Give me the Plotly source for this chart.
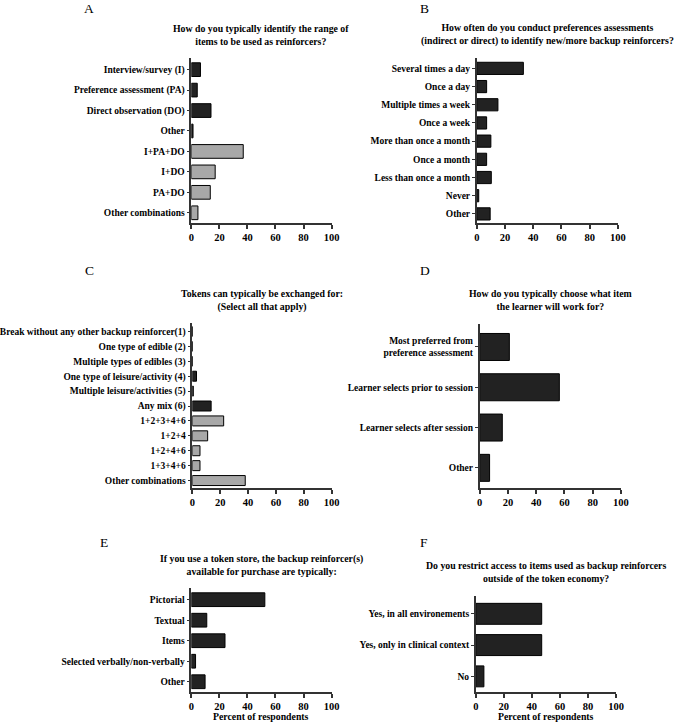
import plotly.graph_objects as go

W, H = 676, 722

# ---------------- data ----------------
A_title = "How do you typically identify the range of<br>items to be used as reinforcers?"
A_single = ["Interview/survey (I)", "Preference assessment (PA)", "Direct observation (DO)", "Other"]
A_single_vals = [6.5, 4.2, 14, 1.2]
A_combo = ["I+PA+DO", "I+DO", "PA+DO", "Other combinations"]
A_combo_vals = [37, 17, 13.5, 4.7]

B_title = "How often do you conduct preferences assessments<br>(indirect or direct) to identify new/more backup reinforcers?"
B_single = ["Several times a day", "Once a day", "Multiple times a week", "Once a week",
            "More than once a month", "Once a month", "Less than once a month", "Never", "Other"]
B_single_vals = [33, 7, 15, 7, 10, 7, 10.3, 1.4, 9.5]
B_combo = []
B_combo_vals = []

C_title = "Tokens can typically be exchanged for:<br>(Select all that apply)"
C_single = ["Break without any other backup reinforcer(1)", "One type of edible (2)",
            "Multiple types of edibles (3)", "One type of leisure/activity (4)",
            "Multiple leisure/activities (5)", "Any mix (6)"]
C_single_vals = [0, 0, 0, 3, 0.7, 13.5]
C_combo = ["1+2+3+4+6", "1+2+4", "1+2+4+6", "1+3+4+6", "Other combinations"]
C_combo_vals = [22.5, 11, 5.5, 5.5, 38]

D_title = "How do you typically choose what item<br>the learner will work for?"
D_single = ["Most preferred from<br>preference assessment", "Learner selects prior to session",
            "Learner selects after session", "Other"]
D_single_vals = [21, 56.4, 16, 7]
D_combo = []
D_combo_vals = []

E_title = "If you use a token store, the backup reinforcer(s)<br>available for purchase are typically:"
E_single = ["Pictorial", "Textual", "Items", "Selected verbally/non-verbally", "Other"]
E_single_vals = [52.4, 11, 24, 3, 9.8]
E_combo = []
E_combo_vals = []

F_title = "Do you restrict access to items used as backup reinforcers<br>outside of the token economy?"
F_single = ["Yes, in all environements", "Yes, only in clinical context", "No"]
F_single_vals = [47, 47, 5.8]
F_combo = []
F_combo_vals = []

x_ticks = [0, 20, 40, 60, 80, 100]
x_title = "Percent of respondents"

# ---------------- layout / style ----------------
FONT = "Liberation Serif"
DARK = "#222222"
GRAY = "#a8a8a8"
AX = "#333333"

panels = [
    # letter, title, single, svals, combo, cvals, xpx, ypx(top,bottom), letter pos, title y center, show xtitle
    ("A", A_title, A_single, A_single_vals, A_combo, A_combo_vals, (190, 333), (58, 223), (86, 8), 35, False),
    ("B", B_title, B_single, B_single_vals, B_combo, B_combo_vals, (481, 625), (58, 223), (428, 8), 35, False),
    ("C", C_title, C_single, C_single_vals, C_combo, C_combo_vals, (191, 333), (323, 488), (86, 270), 300, False),
    ("D", D_title, D_single, D_single_vals, D_combo, D_combo_vals, (484, 628), (324, 488), (428, 270), 300, False),
    ("E", E_title, E_single, E_single_vals, E_combo, E_combo_vals, (190, 333), (588, 692), (101, 542), 565, True),
    ("F", F_title, F_single, F_single_vals, F_combo, F_combo_vals, (480, 623), (596, 692), (427, 542), 572, True),
]

fig = go.Figure()
annotations = []
layout_axes = {}

for i, (letter, title, single, svals, combo, cvals, xpx, ypx, lpos, ty, showxt) in enumerate(panels):
    n = i + 1
    xa = "x" if n == 1 else f"x{n}"
    ya = "y" if n == 1 else f"y{n}"
    cats = single + combo
    fig.add_trace(go.Bar(
        y=single, x=svals, orientation="h", xaxis=xa, yaxis=ya,
        marker=dict(color=DARK, line=dict(color="#000000", width=1)),
        width=0.67, showlegend=False, hoverinfo="x+y"))
    if combo:
        fig.add_trace(go.Bar(
            y=combo, x=cvals, orientation="h", xaxis=xa, yaxis=ya,
            marker=dict(color=GRAY, line=dict(color="#000000", width=1)),
            width=0.67, showlegend=False, hoverinfo="x+y"))
    ncat = len(cats)
    layout_axes["xaxis" if n == 1 else f"xaxis{n}"] = dict(
        domain=[xpx[0] / W, xpx[1] / W], anchor=ya, range=[0, 100],
        tickvals=x_ticks, ticktext=[str(t) for t in x_ticks],
        showline=True, linecolor=AX, linewidth=1.5, ticks="outside", ticklen=4,
        tickwidth=1.5, tickcolor=AX, showgrid=False, zeroline=False,
        tickfont=dict(family=FONT, size=10.5, color="#000000", weight="bold"), fixedrange=True)
    layout_axes["yaxis" if n == 1 else f"yaxis{n}"] = dict(
        domain=[1 - ypx[1] / H, 1 - ypx[0] / H], anchor=xa, type="category",
        categoryorder="array", categoryarray=cats,
        range=[ncat - 1 + 0.5, -0.57],
        showline=True, linecolor=AX, linewidth=1.5, ticks="outside", ticklen=3,
        tickwidth=1, tickcolor=AX, showgrid=False, zeroline=False,
        tickfont=dict(family=FONT, size=9.5, color="#000000", weight="bold"), fixedrange=True)
    # panel letter
    annotations.append(dict(text=letter, x=lpos[0] / W, y=1 - lpos[1] / H, xref="paper", yref="paper",
                            xanchor="center", yanchor="middle", showarrow=False,
                            font=dict(family=FONT, size=13.5, color="#000000")))
    # subtitle
    annotations.append(dict(text=title, x=(xpx[0] + xpx[1]) / 2 / W, y=1 - ty / H, xref="paper", yref="paper",
                            xanchor="center", yanchor="middle", showarrow=False, align="center",
                            font=dict(family=FONT, size=9.8, color="#000000", weight="bold")))
    if showxt:
        annotations.append(dict(text=x_title, x=(xpx[0] + xpx[1]) / 2 / W, y=1 - 716 / H,
                                xref="paper", yref="paper", xanchor="center", yanchor="middle",
                                showarrow=False,
                                font=dict(family=FONT, size=9.8, color="#000000", weight="bold")))

fig.update_layout(
    width=W, height=H, margin=dict(l=0, r=0, t=0, b=0),
    paper_bgcolor="white", plot_bgcolor="white",
    annotations=annotations, bargap=0.33, **layout_axes)

fig.write_html("out.html", config={"displayModeBar": False},
               post_script="document.body.style.margin='0';document.body.style.padding='0';document.body.style.overflow='hidden';")
